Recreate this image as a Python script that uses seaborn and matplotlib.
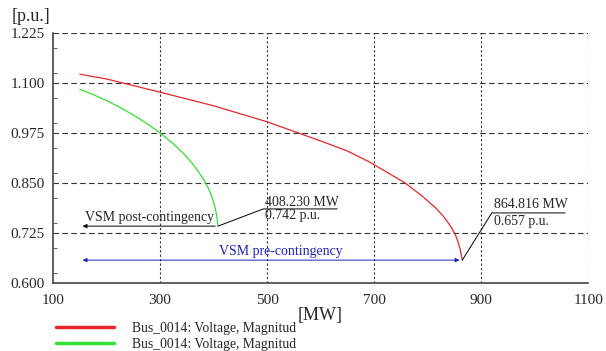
import pandas as pd
import seaborn as sns
import matplotlib.pyplot as plt
from matplotlib.lines import Line2D
from matplotlib.ticker import MultipleLocator

# Data
pre_mw = [150, 200, 300, 400, 500, 600, 650, 689, 720, 758, 790, 814, 830, 844, 852, 857, 861, 864.816]
pre_pu = [1.122, 1.110, 1.077, 1.043, 1.003, 0.955, 0.930, 0.904, 0.880, 0.850, 0.817, 0.789, 0.766,
          0.740, 0.720, 0.702, 0.683, 0.657]
post_mw = [150, 175, 200, 225, 250, 275, 300, 325, 345, 360, 372, 382, 390, 397, 402, 406, 408.23]
post_pu = [1.084, 1.071, 1.056, 1.039, 1.020, 0.999, 0.975, 0.948, 0.922, 0.899, 0.878, 0.857,
           0.838, 0.815, 0.793, 0.768, 0.742]
x_ticks = [100, 300, 500, 700, 900, 1100]
y_ticks = [0.600, 0.725, 0.850, 0.975, 1.100, 1.225]
legend_labels = ['Bus_0014: Voltage, Magnitud', 'Bus_0014: Voltage, Magnitud']

sns.set_style('white')
plt.rcParams['font.family'] = ['Liberation Serif', 'DejaVu Serif']

pre = pd.DataFrame({'MW': pre_mw, 'pu': pre_pu})
post = pd.DataFrame({'MW': post_mw, 'pu': post_pu})

fig = plt.figure(figsize=(6.06, 3.51), dpi=100)
ax = fig.add_axes([0.0875, 0.194, 0.883, 0.712])

sns.lineplot(x='MW', y='pu', data=pre, ax=ax, color='#e8262a', lw=0.9)
sns.lineplot(x='MW', y='pu', data=post, ax=ax, color='#33e033', lw=0.9)

ax.set_xlim(100, 1100)
ax.set_ylim(0.600, 1.225)
ax.set_xticks(x_ticks)
ax.set_yticks(y_ticks)
ax.set_yticklabels(['%.3f' % v for v in y_ticks])
ax.yaxis.set_minor_locator(MultipleLocator(0.0625))
ax.tick_params(axis='both', labelsize=11, length=0)
ax.tick_params(axis='x', pad=8)
ax.tick_params(axis='y', pad=6)
ax.tick_params(axis='y', which='minor', direction='in', length=3, left=True, color='#444444')
ax.set_xlabel('[MW]', fontsize=13, labelpad=0)
ax.set_ylabel('')

# grid
for v in y_ticks[1:]:
    ax.axhline(v, color='#333333', lw=0.8, ls=(0, (5, 3)), zorder=0)
for v in x_ticks[1:]:
    ax.axvline(v, color='#333333', lw=0.8, ls=(0, (2, 2)), zorder=0)
for s in ['top', 'right']:
    ax.spines[s].set_visible(False)
for s in ['left', 'bottom']:
    ax.spines[s].set_color('#444444')
    ax.spines[s].set_linewidth(1.2)

fig.text(0.02, 0.952, '[p.u.]', fontsize=13, va='center')

# VSM post-contingency
ax.annotate('', xy=(150, post_pu[-1]), xytext=(post_mw[-1], post_pu[-1]),
            arrowprops=dict(arrowstyle='-|>', color='black', lw=0.7, mutation_scale=6))
ax.text(160, 0.7625, 'VSM post-contingency', fontsize=10, va='center')
ax.plot([post_mw[-1], 493, 631], [post_pu[-1], 0.785, 0.785], color='black', lw=0.7)
ax.text(497, 0.801, '408.230 MW', fontsize=10, va='center')
ax.text(497, 0.769, '0.742 p.u.', fontsize=10, va='center')

# VSM pre-contingency
ax.annotate('', xy=(150, pre_pu[-1]), xytext=(pre_mw[-1], pre_pu[-1]),
            arrowprops=dict(arrowstyle='<|-|>', color='#2020c0', lw=0.7, mutation_scale=6))
ax.text(525, 0.6775, 'VSM pre-contingency', fontsize=10, va='center', ha='center', color='#2020c0')
ax.plot([pre_mw[-1], 920, 1057], [pre_pu[-1], 0.775, 0.775], color='black', lw=0.7)
ax.text(924, 0.795, '864.816 MW', fontsize=10, va='center')
ax.text(924, 0.7525, '0.657 p.u.', fontsize=10, va='center')

handles = [Line2D([], [], color='#e8262a', lw=2.5), Line2D([], [], color='#33e033', lw=2.5)]
fig.legend(handles, legend_labels, loc='lower left', bbox_to_anchor=(0.072, -0.035),
           frameon=False, fontsize=9.8, handlelength=4.3, handletextpad=1.3, labelspacing=0.25)

fig.savefig('out.png', dpi=100)
